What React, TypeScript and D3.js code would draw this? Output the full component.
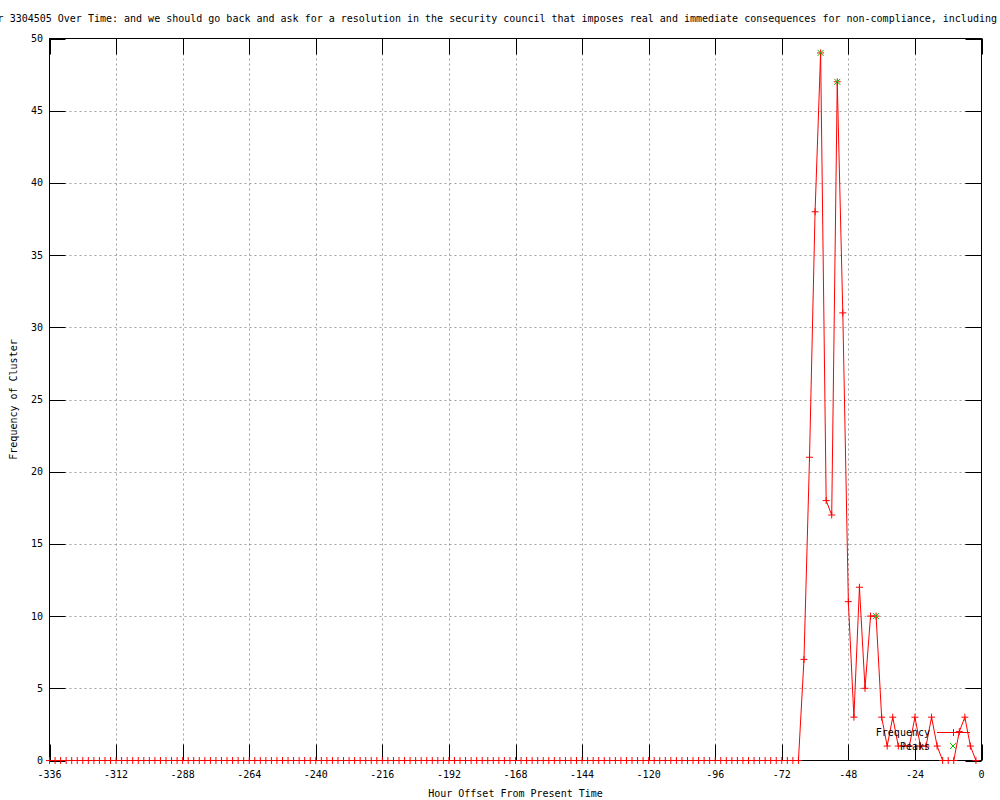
import React, { useEffect, useRef } from "react";
import * as d3 from "d3";

// cluster frequency, one sample every 2 hours from -336 to -2
const hours = d3.range(-336, 0, 2);
const frequency = [
  0, 0, 0, 0, 0, 0, 0, 0, 0, 0, 0, 0, 0, 0, 0, 0, 0,
  0, 0, 0, 0, 0, 0, 0, 0, 0, 0, 0, 0, 0, 0, 0, 0, 0,
  0, 0, 0, 0, 0, 0, 0, 0, 0, 0, 0, 0, 0, 0, 0, 0, 0,
  0, 0, 0, 0, 0, 0, 0, 0, 0, 0, 0, 0, 0, 0, 0, 0, 0,
  0, 0, 0, 0, 0, 0, 0, 0, 0, 0, 0, 0, 0, 0, 0, 0, 0,
  0, 0, 0, 0, 0, 0, 0, 0, 0, 0, 0, 0, 0, 0, 0, 0, 0,
  0, 0, 0, 0, 0, 0, 0, 0, 0, 0, 0, 0, 0, 0, 0, 0, 0,
  0, 0, 0, 0, 0, 0, 0, 0, 0, 0, 0, 0, 0, 0, 0, 0, 0,
  7, 21, 38, 49, 18, 17, 47, 31, 11, 3, 12, 5, 10, 10, 3, 1,
  3, 1, 1, 1, 3, 1, 1, 3, 1, 0, 0, 0, 2, 3, 1, 0,
];
const peakHours = [-58, -52, -38];
const peakValues = [49, 47, 10];

const xTicks = [-336, -312, -288, -264, -240, -216, -192, -168, -144, -120, -96, -72, -48, -24, 0];
const yTicks = [0, 5, 10, 15, 20, 25, 30, 35, 40, 45, 50];

const title =
  "Frequency of Cluster 3304505 Over Time: and we should go back and ask for a resolution in the security council that imposes real and immediate consequences for non-compliance, including";

const FONT = "'DejaVu Sans Mono', monospace";

const App = () => {
  const ref = useRef<SVGSVGElement>(null);

  useEffect(() => {
    const svg = d3.select(ref.current);
    svg.selectAll("*").remove();

    const left = 49.5, right = 981.5, top = 38.5, bottom = 760.5;
    const tick = 16;

    const x = d3.scaleLinear().domain([-336, 0]).range([left, right]);
    const y = d3.scaleLinear().domain([0, 50]).range([bottom, top]);

    svg.append("rect").attr("width", 1000).attr("height", 800).attr("fill", "white");

    // grid
    const grid = svg.append("g").attr("stroke", "#a0a0a0").attr("stroke-dasharray", "2,3");
    xTicks.slice(1, -1).forEach((t) => {
      grid.append("line").attr("x1", Math.round(x(t)) + 0.5).attr("x2", Math.round(x(t)) + 0.5)
        .attr("y1", top).attr("y2", bottom);
    });
    yTicks.slice(1, -1).forEach((t) => {
      grid.append("line").attr("y1", Math.round(y(t)) + 0.5).attr("y2", Math.round(y(t)) + 0.5)
        .attr("x1", left).attr("x2", right);
    });

    // border + mirrored inward ticks
    const axes = svg.append("g").attr("stroke", "black").attr("fill", "none");
    axes.append("rect").attr("x", left).attr("y", top)
      .attr("width", right - left).attr("height", bottom - top);
    xTicks.forEach((t) => {
      const px = Math.round(x(t)) + 0.5;
      axes.append("line").attr("x1", px).attr("x2", px).attr("y1", bottom).attr("y2", bottom - tick);
      axes.append("line").attr("x1", px).attr("x2", px).attr("y1", top).attr("y2", top + tick);
    });
    yTicks.forEach((t) => {
      const py = Math.round(y(t)) + 0.5;
      axes.append("line").attr("y1", py).attr("y2", py).attr("x1", left).attr("x2", left + tick);
      axes.append("line").attr("y1", py).attr("y2", py).attr("x1", right).attr("x2", right - tick);
    });

    // tick labels
    const labels = svg.append("g").attr("font-family", FONT).attr("font-size", 10).attr("fill", "black");
    xTicks.forEach((t) => {
      labels.append("text").attr("x", x(t)).attr("y", 778)
        .attr("text-anchor", "middle").text(String(t));
    });
    yTicks.forEach((t) => {
      labels.append("text").attr("x", 43).attr("y", y(t) + 3.5)
        .attr("text-anchor", "end").text(String(t));
    });

    // titles (the long title runs past the left edge, as in the original)
    labels.append("text").attr("x", 997).attr("y", 22).attr("text-anchor", "end").text(title);
    labels.append("text").attr("x", (left + right) / 2).attr("y", 797)
      .attr("text-anchor", "middle").text("Hour Offset From Present Time");
    labels.append("text")
      .attr("transform", `translate(17,${(top + bottom) / 2}) rotate(-90)`)
      .attr("text-anchor", "middle")
      .text("Frequency of Cluster");

    // frequency line + points
    const pts = hours.map((h, i) => [x(h), y(frequency[i])] as [number, number]);
    svg.append("path")
      .attr("d", d3.line()(pts))
      .attr("fill", "none")
      .attr("stroke", "#ff0000")
      .attr("stroke-width", 1);

    const plus = (g: any, cx: number, cy: number, color: string) => {
      g.append("path")
        .attr("d", `M${cx - 3.5},${cy}H${cx + 3.5}M${cx},${cy - 3.5}V${cy + 3.5}`)
        .attr("stroke", color).attr("fill", "none");
    };
    const cross = (g: any, cx: number, cy: number, color: string) => {
      g.append("path")
        .attr("d", `M${cx - 3},${cy - 3}L${cx + 3},${cy + 3}M${cx - 3},${cy + 3}L${cx + 3},${cy - 3}`)
        .attr("stroke", color).attr("fill", "none");
    };

    const marks = svg.append("g");
    pts.forEach(([px, py]) => plus(marks, px, py, "#ff0000"));

    const peaks = svg.append("g");
    peakHours.forEach((h, i) => cross(peaks, x(h), y(peakValues[i]), "#00c000"));

    // legend
    const legend = svg.append("g");
    legend.append("text").attr("x", 930).attr("y", 735.5)
      .attr("text-anchor", "end").attr("font-family", FONT).attr("font-size", 10).text("Frequency");
    legend.append("line").attr("x1", 937).attr("x2", 970).attr("y1", 732.5).attr("y2", 732.5)
      .attr("stroke", "#ff0000");
    plus(legend, 953.5, 732.5, "#ff0000");
    legend.append("text").attr("x", 930).attr("y", 749.5)
      .attr("text-anchor", "end").attr("font-family", FONT).attr("font-size", 10).text("Peaks");
    cross(legend, 953, 746, "#00c000");
  }, []);

  return (
    <svg
      ref={ref}
      width={1000}
      height={800}
      style={{ position: "absolute", left: 0, top: 0 }}
    />
  );
};

export default App;
